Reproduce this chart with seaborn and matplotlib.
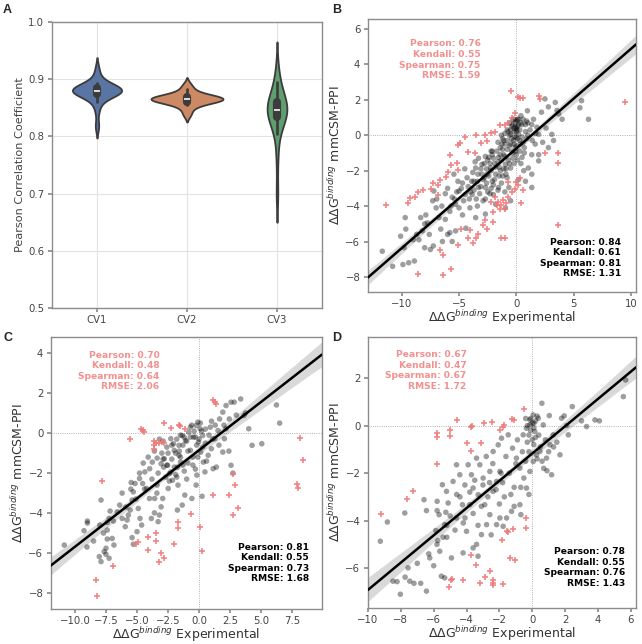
import numpy as np
import pandas as pd
import matplotlib
matplotlib.use("Agg")
import matplotlib.pyplot as plt
import seaborn as sns

# ---------------- Panel A data (Pearson r per CV run) ----------------
cv_names = ["CV1", "CV2", "CV3"]
cv1 = [0.818, 0.846, 0.861, 0.868, 0.872, 0.874, 0.876, 0.877, 0.878, 0.879, 0.880,
       0.880, 0.881, 0.882, 0.883, 0.884, 0.885, 0.887, 0.889, 0.893, 0.901, 0.917]
cv2 = [0.838, 0.848, 0.855, 0.858, 0.860, 0.862, 0.863, 0.864, 0.865, 0.865,
       0.866, 0.867, 0.868, 0.869, 0.870, 0.872, 0.876, 0.882, 0.890]
cv3 = [0.700, 0.765, 0.805, 0.822, 0.830, 0.835, 0.838, 0.841, 0.843, 0.845,
       0.847, 0.849, 0.852, 0.856, 0.860, 0.864, 0.870, 0.880, 0.895, 0.915]

# ---------------- Panel B data (experimental, predicted) ----------------
b_gray = [(-11.7,-6.55),(-10.8,-7.4),(-10.1,-5.7),(-9.8,-6.35),(-9.65,-5.3),(-9.7,-4.65),
          (-9.9,-7.3),(-9.4,-7.2),(-8.9,-7.1),(-8.7,-5.6),(-8.5,-5.9),(-8.2,-5.4),(-8.35,-4.65),
          (-8.0,-6.35),(-7.5,-6.45),(-7.25,-6.25),(-7.6,-5.6),(-7.9,-4.5),(-7.75,-4.95),(-7.0,-4.1),
          (-7.2,-3.15),(-6.95,-3.6),(-6.75,-4.65),(-6.6,-5.3),(-6.45,-6.0),(-6.0,-5.6),(-5.8,-5.5),
          (-6.2,-4.75),(-5.8,-4.3),(-5.6,-3.5),(-5.3,-3.9),(-5.0,-3.15),(-5.1,-2.6),(-5.45,-2.2),
          (-4.7,-2.7),(-4.45,-3.35),(-4.7,-4.5),(-4.4,-5.25),(-5.6,-6.0),(-5.3,-5.4),(-4.05,-4.1),
          (-3.85,-3.35),(-3.7,-2.6),(-3.55,-1.85),(-3.35,-2.2),(-3.0,-1.65),(-3.3,-2.95),(-2.9,-3.7),
          (-2.7,-4.45),(-3.55,-4.65),(-3.4,-4.0),(-2.7,-2.95),(-2.55,-2.2),(-2.4,-1.25),(-2.1,-0.9),
          (-2.25,-1.85),(-2.1,-2.6),(-2.0,-3.35),(-1.8,-3.9),(-1.55,-2.95),(-1.4,-2.0),(-1.55,-1.25),
          (-1.25,-0.5),(-1.1,-1.1),(-0.95,-1.65),(-0.8,-2.4),(-0.65,-2.95),(-0.5,-1.85),(-0.4,-0.9),
          (-0.25,-0.3),(-0.5,0.05),(-0.1,0.45),(0.05,0.8),(0.2,0.05),(0.35,-0.5),(0.5,-1.25),
          (0.65,-2.0),(0.8,-2.6),(1.05,-1.85),(1.35,-1.1),(1.65,-0.5),(1.95,0.05),(1.8,0.45),
          (1.35,0.6),(0.9,0.8),(2.5,2.05),(3.4,1.85),(3.55,1.4),(4.0,0.9),(3.7,1.2),(3.1,0.05),
          (3.25,-0.3),(2.8,-0.7),(1.95,-1.1),(1.95,-1.45),(1.35,-2.2),(1.35,-2.95),(-0.5,-3.7),
          (-0.95,-4.1),(5.55,1.55),(5.7,1.95),(6.3,0.9),(0.97,1.38),
          (-2.6,-1.9),(-2.3,-1.6),(-2.0,-1.3),(-1.8,-1.8),(-1.6,-1.5),(-1.4,-1.1),(-1.2,-0.8),
          (-1.0,-0.5),(-0.8,-0.3),(-0.6,-0.6),(-0.4,-0.2),(-0.2,0.2),(0.0,0.4),(0.1,-0.2),(0.3,0.3),
          (0.5,0.6),(-0.3,-1.0),(-0.7,-1.4),(-1.1,-1.9),(-1.5,-2.3),(-1.9,-2.5),(-2.8,-2.4),
          (-3.1,-2.9),(-2.5,-3.2),(-1.3,-2.7),(-0.9,-2.2),(-0.2,-1.6),(0.3,-0.9),(0.6,-0.4),(0.8,0.2),
          (1.0,0.0),(0.7,-1.0),(-0.1,0.7),(-0.5,0.3),(-1.6,-0.4),(-2.2,-0.9),(-3.3,-1.3),(-3.8,-2.1),
          (-4.2,-2.9),(-3.5,-3.6),(-2.2,-3.0),(-1.0,-3.2),(0.2,-2.5),(0.4,-1.6),(-0.6,0.0),(-0.2,-0.5),
          (0.1,0.9),(0.4,1.1),(-0.35,0.6),(-1.2,-0.2),(-2.7,-1.2),(-3.0,-2.2),(-4.5,-1.9),(-4.0,-3.2),
          (-5.2,-3.2),(-6.2,-3.3),(-6.5,-4.0),(-7.3,-3.7),(-8.0,-5.0),(-9.0,-5.9),
          (0.0,-0.1),(0.0,-0.6),(0.0,-1.1),(0.05,0.3),(-0.05,-0.9),(-0.3,0.9),(0.2,0.6),(-0.15,-0.1),
          (-6.0,-3.0),(-5.7,-4.0),(-5.4,-3.6),(-5.0,-4.1),(-4.8,-3.0),(-4.6,-3.7),(-4.3,-2.4),
          (-4.1,-3.6),(-3.9,-2.6),(-3.7,-3.1),(-3.6,-1.5),(-3.4,-2.6),(-3.2,-3.3),(-3.1,-1.9),
          (-2.9,-2.5),(-2.8,-1.6),(-2.7,-3.6),(-2.6,-2.7),(-2.5,-1.4),(-2.4,-2.3),(-2.3,-3.3),
          (-2.2,-2.0),(-2.1,-1.1),(-2.0,-2.8),(-1.9,-1.6),(-1.8,-2.2),(-1.7,-0.9),(-1.6,-3.1),
          (-1.5,-1.8),(-1.4,-0.7),(-1.3,-1.4),(-1.2,-2.3),(-1.1,-0.3),(-1.0,-1.2),(-0.9,-1.9),
          (-0.8,-0.8),(-0.7,0.2),(-0.6,-1.6),(-0.5,-0.5),(-0.4,0.5),(-0.3,-1.3),(-0.2,0.9),
          (-0.1,-0.7),(0.0,0.2),(0.1,-1.4),(0.2,0.9),(0.3,-0.3),(0.4,0.7),(0.5,-0.1),(0.6,0.9),
          (0.7,-0.7),(0.8,0.6),(0.9,-0.2),(1.0,0.7),(1.2,0.3),(1.4,-0.3),(1.5,0.9),(1.7,0.1),
          (2.2,1.3),(2.8,1.6),(2.3,-0.4),(2.6,0.4),(-0.6,0.7),(-0.8,0.3),(-1.0,0.1),(-1.3,0.0),
          (0.1,0.5),(-0.2,0.4)]
b_red = [(-0.46,2.51),(0.12,2.13),(0.29,2.08),(0.55,2.11),(1.94,2.23),(2.09,2.02),(9.48,1.89),
         (-0.13,1.23),(-0.42,0.95),(-0.71,0.67),(-1.0,0.57),(-1.44,0.57),(-1.88,0.2),(-2.17,0.1),
         (-2.75,0.01),(-3.48,0.04),(-4.5,-0.09),(-3.04,-0.46),(-2.6,-0.33),(-3.62,-1.03),(-4.2,-0.93),
         (-4.93,-0.46),(-5.08,-0.56),(-5.81,-1.12),(-5.66,-1.69),(-5.22,-1.59),(-5.08,-1.97),
         (-5.95,-2.06),(-6.1,-2.35),(-6.68,-2.54),(-6.83,-2.82),(-7.26,-2.72),(-7.41,-3.01),
         (-8.14,-3.1),(-8.57,-3.2),(-8.86,-3.48),(-9.3,-3.57),(-9.45,-3.85),(-11.34,-3.95),(-6.83,-3.38),
         (2.49,-1.03),(3.65,-1.03),(3.65,-1.59),(3.65,-5.08),(0.45,-3.85),(0.6,-3.1),(0.16,-2.82),
         (-0.13,-3.01),(-0.42,-3.2),(-0.71,-2.63),(0.01,-2.63),(0.3,-2.44),
         (-1.88,-3.48),(-1.59,-3.76),(-1.3,-3.95),(-1.0,-4.14),(-1.44,-4.14),(-1.15,-3.67),
         (-0.86,-3.85),(-1.73,-3.95),(-2.17,-3.76),(-0.71,-3.48),(-2.02,-4.32),
         (-2.9,-5.08),(-2.75,-4.8),(-2.02,-4.89),(-3.33,-5.55),(-3.48,-5.83),(-4.06,-5.36),
         (-4.2,-5.83),(-5.08,-6.21),(-3.77,-6.11),(-1.3,-5.83),(-1.0,-5.83),(-6.68,-6.49),
         (-6.39,-6.77),(-5.66,-7.53),(-6.39,-7.9),(-8.57,-7.81),(-4.79,-5.27),(-2.6,-5.27)]

# ---------------- Panel C data ----------------
c_gray = [(-10.86,-5.6),(-9.27,-4.88),(-9.0,-4.4),(-9.0,-4.5),(-9.03,-5.7),(-7.9,-3.35),(-8.04,-6.18),
          (-7.9,-6.43),(-7.65,-5.93),(-7.5,-5.76),(-7.4,-5.3),(-7.4,-4.85),(-7.4,-4.47),(-7.25,-4.27),
          (-7.17,-3.9),(-7.0,-5.27),(-6.86,-5.6),(-7.25,-6.26),(-7.5,-6.06),(-6.6,-3.94),(-6.4,-3.6),
          (-6.2,-4.27),(-5.95,-4.68),(-5.8,-4.35),(-5.7,-4.1),(-5.55,-3.85),(-5.4,-3.35),(-5.3,-2.94),
          (-5.1,-3.3),(-4.9,-3.77),(-4.76,-4.27),(-4.63,-4.6),(-5.0,-4.93),(-5.4,-5.23),(-5.3,-5.56),
          (-3.85,-4.27),(-3.6,-3.99),(-3.3,-4.43),(-3.2,-4.1),(-3.06,-3.69),(-2.93,-3.27),(-3.58,-3.27),
          (-4.0,-3.27),(-4.24,-2.77),(-4.55,-2.52),(-4.8,-2.27),(-5.16,-2.52),(-5.47,-2.47),
          (-4.37,-1.94),(-3.98,-1.78),(-3.77,-1.45),(-4.5,-1.5),(-3.38,-1.25),(-3.06,-1.53),
          (-2.85,-1.7),(-2.8,-1.28),(-2.54,-1.61),(-2.4,-2.03),(-2.28,-1.94),(-2.15,-2.36),
          (-1.88,-2.08),(-1.75,-1.7),(-1.5,-1.45),(-1.62,-1.11),(-2.0,-0.86),(-2.28,-0.28),
          (-2.07,-0.53),(-1.62,-0.61),(-1.36,-0.12),(-1.1,-0.37),(-0.84,0.05),(-0.7,-0.86),
          (-0.45,-0.2),(-0.24,0.38),(-0.1,0.55),(0.08,0.22),(0.29,-0.12),(-0.05,-0.45),(0.13,-0.95),
          (0.34,-1.45),(0.73,-1.11),(0.99,-0.78),(1.26,-0.28),(1.52,0.13),(1.65,0.71),(1.91,1.05),
          (2.17,1.38),(2.57,1.55),(2.83,1.55),(3.35,1.71),(3.74,1.01),(4.0,0.22),(4.27,-0.61),
          (5.05,-0.53),(6.23,1.41),(6.49,0.5),(3.61,0.88),(2.43,0.71),(2.17,0.22),(2.04,-0.28),
          (1.91,-0.95),(1.39,-1.7),(1.13,-1.78),(0.47,-1.94),(-0.18,-2.1),(-0.24,-2.6),(0.24,-3.16),
          (-0.58,-3.27),(-1.15,-3.1),(-1.36,-3.6),(-1.75,-3.85),(-2.49,-2.77),(-3.38,-2.6),
          (2.72,-2.0),(2.57,-1.61),
          (-2.5,-1.0),(-2.2,-1.3),(-1.9,-1.0),(-1.6,-0.9),(-1.3,-0.6),(-1.0,-0.4),(-0.7,-0.2),
          (-0.4,0.1),(-0.2,-0.6),(0.0,-0.3),(0.2,0.1),(-0.5,-1.2),(-0.9,-1.5),(-1.2,-1.9),(-1.8,-2.2),
          (-2.6,-1.6),(-3.0,-1.0),(-3.3,-2.0),(-2.7,-2.2),(-0.3,-1.8),(0.5,-0.5),(0.9,0.3),(1.1,-0.3),
          (-0.6,0.4),(-1.5,-0.1),(-2.9,-0.4),(-3.6,-0.9),(-4.1,-1.2),(-4.8,-2.0),(-5.5,-2.8),
          (-6.2,-3.0),(-5.9,-3.7),(-6.9,-4.4),(-8.0,-4.6),(-8.5,-5.4),(-7.7,-5.0),
          (-3.2,-0.3),(-2.9,-1.3),(-2.6,-0.7),(-2.4,-2.4),(-2.2,-0.6),(-2.0,-1.7),(-1.8,-0.3),
          (-1.7,-2.6),(-1.5,-1.2),(-1.3,-1.6),(-1.2,-0.2),(-1.0,-2.3),(-0.9,-0.9),(-0.7,0.3),
          (-0.5,-1.6),(-0.3,-0.2),(-0.1,-1.2),(0.1,0.5),(0.3,-0.7),(0.5,0.2),(0.6,-1.4),(0.8,-0.1),
          (1.0,0.6),(1.3,0.4),(1.6,-0.6),(2.0,0.4),(2.4,-0.9),(3.0,0.9),(-3.8,-2.3),(-4.4,-2.8),
          (-3.4,-3.0)]
c_red = [(-2.85,0.5),(-4.7,0.2),(-4.5,0.15),(-4.4,0.05),(-5.6,-0.3),(-3.6,-0.4),(-3.6,-0.6),
         (-3.6,-0.8),(-3.45,-0.48),(-3.2,-0.5),(-3.0,-0.45),(-2.8,-0.48),(-2.3,0.25),(-1.65,0.4),
         (-1.55,0.37),(-1.1,0.2),(1.13,1.65),(1.25,1.58),(1.33,1.45),(8.15,-0.22),(8.4,-1.33),
         (7.9,-2.55),(7.95,-2.75),(2.72,-2.07),(2.9,-2.6),(2.43,-3.1),(1.13,-3.1),(3.1,-3.77),
         (2.7,-4.1),(-0.65,-4.07),(-1.68,-4.43),(-1.68,-4.77),(0.08,-4.68),(-7.83,-2.4),(-3.5,-5.0),
         (-3.5,-5.4),(-4.1,-5.2),(-5.1,-5.55),(-4.9,-5.43),(-4.15,-5.85),(-3.1,-6.0),(-2.8,-6.27),
         (-3.27,-6.43),(-2.0,-5.56),(0.2,-5.9),(-6.94,-6.63),(-8.3,-7.36),(-8.2,-8.14)]

# ---------------- Panel D data ----------------
d_gray = [(-9.25,-4.87),(-8.82,-4.06),(-8.48,-6.55),(-8.23,-6.57),(-8.03,-7.1),(-7.74,-6.38),
          (-7.56,-5.99),(-7.46,-6.55),(-7.2,-6.64),(-6.79,-6.64),(-6.44,-6.97),(-7.76,-3.68),
          (-6.24,-5.57),(-6.59,-3.12),(-6.44,-3.58),(-5.79,-3.19),(-5.79,-3.58),(-5.67,-3.75),
          (-5.87,-4.42),(-5.75,-4.84),(-5.63,-5.29),(-5.43,-4.7),(-5.33,-4.17),(-5.26,-3.65),
          (-5.12,-3.26),(-5.47,-2.49),(-5.22,-2.77),(-4.82,-2.35),(-4.61,-1.65),(-4.41,-2.07),
          (-4.25,-3.33),(-4.09,-3.89),(-4.0,-4.45),(-4.21,-5.36),(-4.92,-5.57),(-5.33,-6.41),
          (-5.53,-6.34),(-4.61,-3.89),(-3.8,-3.33),(-3.6,-2.63),(-3.7,-2.07),(-3.9,-1.65),
          (-3.39,-1.37),(-3.19,-1.65),(-2.99,-2.21),(-3.29,-2.91),(-2.89,-3.33),(-2.58,-3.75),
          (-2.78,-4.17),(-3.09,-4.59),(-3.39,-5.0),(-3.6,-5.15),(-2.17,-4.17),(-1.97,-3.89),
          (-1.77,-4.24),(-1.56,-3.89),(-1.26,-3.61),(-0.75,-3.33),(-0.69,-3.75),(-2.38,-2.77),
          (-2.17,-2.35),(-1.97,-1.93),(-2.58,-1.93),(-2.38,-1.09),(-2.07,-0.81),(-1.87,-0.53),
          (-1.46,-0.39),(-1.2,-0.95),(-0.96,-1.37),(-0.75,-1.79),(-0.51,-2.21),(-0.35,-2.63),
          (-0.14,-1.93),(0.06,-1.51),(0.26,-1.23),(0.47,-1.09),(0.87,-1.37),(1.08,-0.81),
          (1.18,-2.07),(1.69,-1.23),(1.28,-0.39),(0.67,0.03),(0.37,0.31),(0.06,0.45),(-0.14,0.24),
          (-0.35,-0.11),(-0.55,-0.39),(0.59,0.94),(1.04,0.42),(1.79,0.31),(2.44,0.8),(1.95,0.41),
          (3.0,0.2),(3.31,-0.04),(3.82,0.24),(4.09,0.2),(5.55,1.22),(5.69,1.92),(2.2,-0.39),
          (0.16,-0.25),(-0.14,0.03),
          (-0.1,-0.2),(0.1,0.1),(0.2,-0.5),(-0.3,-0.7),(0.5,-0.9),(0.8,-0.6),(-0.6,-1.1),(-1.0,-1.6),
          (-1.4,-2.0),(-1.8,-2.4),(-2.2,-2.7),(-2.7,-3.0),(-3.1,-3.4),(-3.6,-3.7),(-4.2,-4.1),
          (-4.7,-4.4),(-5.2,-4.7),(-5.8,-5.0),(-6.3,-5.4),(-0.2,-2.9),(-1.1,-2.6),(-1.6,-1.3),
          (-2.4,-1.6),(-3.0,-2.5),(-3.8,-2.8),(-4.4,-3.0),(-5.0,-3.8),(-0.4,0.3),(0.3,0.4),
          (1.3,-0.9),(0.9,-1.9),(-0.9,-0.6),(-1.7,-3.0),(-2.5,-4.6),(-3.3,-5.5),(-6.0,-5.9),(-7.0,-5.8),
          (0.0,0.1),(-0.2,-1.1),(0.1,-0.8),
          (-0.1,0.3),(0.1,-0.1),(0.2,0.2),(-0.2,-0.4),(0.0,-0.6),(0.3,-1.4),(0.6,-1.5),(-0.4,-1.5),
          (0.4,-0.4),(-0.3,0.0),(1.0,-1.1),(0.7,-1.8),(-0.7,-2.6),(-1.3,-2.9),(-1.9,-2.0),(-2.6,-2.4),
          (-2.8,-1.3),(-3.5,-2.3),(-4.1,-2.5),(-4.6,-2.9),(-3.3,-4.2),(-2.0,-3.3),(-1.1,-3.4),
          (-5.2,-4.2),(1.5,-0.7),(2.1,0.0)]
d_red = [(-0.49,0.7),(-1.22,0.28),(-1.1,0.24),(-1.8,-0.04),(-1.72,0.03),(-1.95,-0.18),
         (-2.42,0.17),(-2.95,0.13),(-3.7,-0.04),(-3.65,0.0),(-4.61,0.22),(-5.0,-0.18),(-5.0,-0.43),
         (-5.79,-0.32),(-5.79,-0.49),(-4.0,-0.74),(-3.74,-1.09),(-3.09,-0.74),(-5.79,-1.6),
         (-7.26,-2.74),(-7.63,-3.09),(-9.19,-3.71),(-1.83,-4.8),(-1.56,-4.45),(-1.48,-4.5),
         (-1.16,-4.34),(-0.39,-3.89),(-0.35,-4.3),(-1.36,-5.57),(-1.06,-5.67),(-3.7,-5.43),
         (-3.4,-5.85),(-2.58,-6.13),(-2.85,-6.38),(-3.19,-6.62),(-2.38,-6.52),(-2.38,-6.62),
         (-2.38,-6.71),(-1.77,-6.69),(-4.21,-6.52),(-4.86,-6.48),(-4.95,-6.5),(-5.08,-6.8)]

# ---------------- statistics labels ----------------
stats_red = {"B": ["Pearson: 0.76", "Kendall: 0.55", "Spearman: 0.75", "RMSE: 1.59"],
             "C": ["Pearson: 0.70", "Kendall: 0.48", "Spearman: 0.64", "RMSE: 2.06"],
             "D": ["Pearson: 0.67", "Kendall: 0.47", "Spearman: 0.67", "RMSE: 1.72"]}
stats_black = {"B": ["Pearson: 0.84", "Kendall: 0.61", "Spearman: 0.81", "RMSE: 1.31"],
               "C": ["Pearson: 0.81", "Kendall: 0.55", "Spearman: 0.73", "RMSE: 1.68"],
               "D": ["Pearson: 0.78", "Kendall: 0.55", "Spearman: 0.76", "RMSE: 1.43"]}

# ---------------- styling ----------------
sns.set_theme(style="white")
plt.rcParams.update({
    "font.family": ["DejaVu Sans"],
    "axes.edgecolor": "#8c8c8c",
    "axes.linewidth": 1.0,
    "xtick.color": "#8c8c8c",
    "ytick.color": "#8c8c8c",
    "xtick.labelcolor": "#444444",
    "ytick.labelcolor": "#444444",
    "xtick.labelsize": 7.3,
    "ytick.labelsize": 7.3,
    "xtick.major.size": 3,
    "ytick.major.size": 3,
    "xtick.major.pad": 2.0,
    "ytick.major.pad": 2.5,
    "xtick.bottom": True,
    "ytick.left": True,
    "axes.labelcolor": "#333333",
})

W, H = 642, 644
fig = plt.figure(figsize=(W / 100, H / 100), dpi=100)


def add_ax(l, t, r, b):
    return fig.add_axes([l / W, 1 - b / H, (r - l) / W, (b - t) / H])


RED = "#F07878"
XLAB = r"$\Delta\Delta\mathrm{G}^{binding}$ Experimental"
YLAB = r"$\Delta\Delta\mathrm{G}^{binding}$ mmCSM-PPI"

# ---------------- Panel A ----------------
axA = add_ax(52, 22, 322, 308)
dfA = pd.DataFrame({"cv": ["CV1"] * len(cv1) + ["CV2"] * len(cv2) + ["CV3"] * len(cv3),
                    "r": cv1 + cv2 + cv3})
sns.violinplot(data=dfA, x="cv", y="r", hue="cv", order=cv_names, palette="deep",
               linewidth=1.3, linecolor="#3c3c3c", legend=False, common_norm=True,
               density_norm="area", ax=axA)
axA.set_ylim(0.5, 1.0)
axA.set_yticks([0.5, 0.6, 0.7, 0.8, 0.9, 1.0])
axA.grid(True, color="#e3e3e3", lw=0.8)
axA.set_axisbelow(True)
axA.set_xlabel("")
axA.set_ylabel("Pearson Correlation Coefficient", fontsize=8.1, labelpad=2, color="#444444")


def scatter_panel(ax, gray, red, xlim, ylim, xticks, yticks, key, red_pos, black_pos):
    ax.set_xlim(*xlim)
    ax.set_ylim(*ylim)
    ax.axhline(0, color="#999999", lw=0.6, ls=":", zorder=0)
    ax.axvline(0, color="#999999", lw=0.6, ls=":", zorder=0)
    gx = [p[0] for p in gray]
    gy = [p[1] for p in gray]
    rx = [p[0] for p in red]
    ry = [p[1] for p in red]
    sns.scatterplot(x=gx, y=gy, color="black", alpha=0.38, s=16, edgecolor="none", ax=ax, zorder=2)
    sns.scatterplot(x=rx, y=ry, color=RED, marker="+", s=15, linewidth=1.2, alpha=0.9, ax=ax, zorder=2)
    sns.regplot(x=gx, y=gy, scatter=False, truncate=False, color="black", seed=0,
                line_kws={"lw": 1.8, "zorder": 3}, ax=ax)
    ax.set_xlim(*xlim)
    ax.set_ylim(*ylim)
    ax.set_xticks(xticks)
    ax.set_yticks(yticks)
    ax.set_xlabel(XLAB, fontsize=9, labelpad=-0.5)
    ax.set_ylabel(YLAB, fontsize=9, labelpad=2)
    ax.text(red_pos[0], red_pos[1], "\n".join(stats_red[key]), transform=ax.transAxes,
            ha="right", va="top", fontsize=6.6, fontweight="bold", color="#F29090",
            linespacing=1.22)
    ax.text(black_pos[0], black_pos[1], "\n".join(stats_black[key]), transform=ax.transAxes,
            ha="right", va="bottom", fontsize=6.6, fontweight="bold", color="black",
            linespacing=1.22)


axB = add_ax(368, 19, 636, 292)
scatter_panel(axB, b_gray, b_red, (-12.95, 10.45), (-8.85, 6.56),
              [-10, -5, 0, 5, 10], [-8, -6, -4, -2, 0, 2, 4, 6], "B",
              (0.42, 0.925), (0.944, 0.05))

axC = add_ax(51, 337, 322, 609)
scatter_panel(axC, c_gray, c_red, (-11.93, 9.9), (-8.8, 4.81),
              np.arange(-10, 8, 2.5), [-8, -6, -4, -2, 0, 2, 4], "C",
              (0.40, 0.95), (0.952, 0.095))

axD = add_ax(368, 337, 636, 608)
scatter_panel(axD, d_gray, d_red, (-10, 6.32), (-7.68, 3.73),
              [-10, -8, -6, -4, -2, 0, 2, 4, 6], [-6, -4, -2, 0, 2], "D",
              (0.368, 0.952), (0.959, 0.075))

for lab, (x, y) in {"A": (3, 4), "B": (332, 4), "C": (4, 332), "D": (332, 332)}.items():
    fig.text(x / W, 1 - y / H, lab, ha="left", va="top", fontsize=9,
             fontweight="bold", family=["Liberation Sans", "DejaVu Sans"])

fig.savefig("out.png", dpi=100)
